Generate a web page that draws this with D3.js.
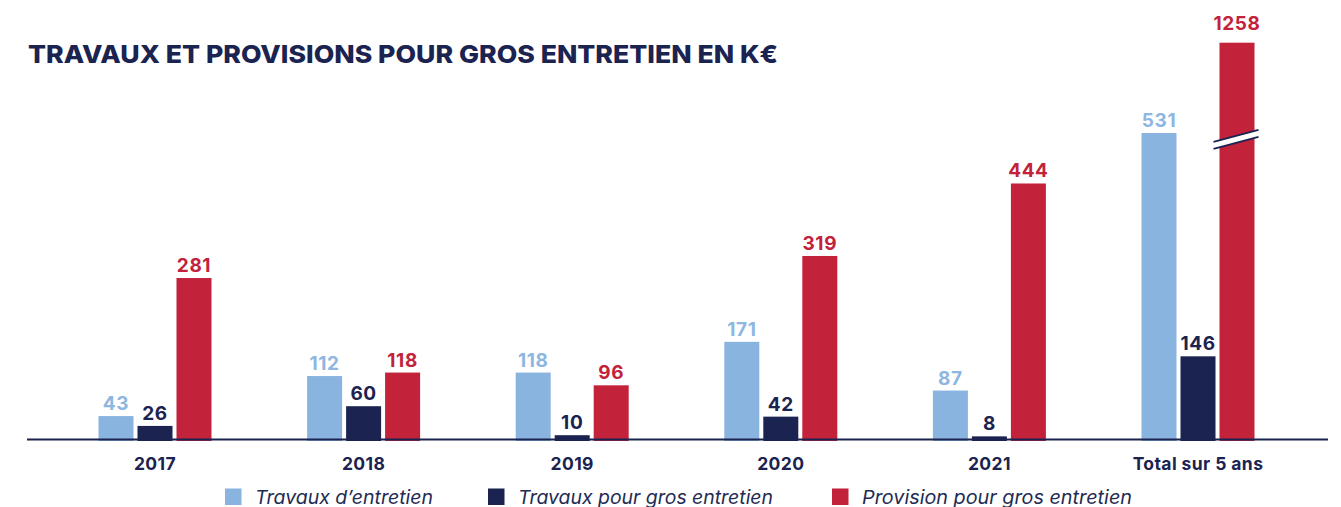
<!DOCTYPE html>
<html>
<head>
<meta charset="utf-8">
<script src="https://cdn.jsdelivr.net/npm/d3@7"></script>
<style>
	body { margin: 0; background: #fff; }
	#graphic { width: 1341px; height: 507px; }
</style>
</head>
<body>
<div id="graphic"></div>
<script>
// data
var categories = ["2017", "2018", "2019", "2020", "2021", "Total sur 5 ans"];
var seriesKeys = ["entretien", "gros", "provision"];
var seriesLabels = ["Travaux d\u2019entretien", "Travaux pour gros entretien", "Provision pour gros entretien"];
var travauxEntretien = [43, 112, 118, 171, 87, 531];
var travauxGros = [26, 60, 10, 42, 8, 146];
var provisionGros = [281, 118, 96, 319, 444, 1258];

var colours = ["#8ab4e0", "#1b2350", "#c2223a"];
var labelColours = ["#8db6e1", "#1b2350", "#c2223a"];
var navy = "#1b2350";

var width = 1341,
	height = 507;

var graphic = d3.select("#graphic");

var svg = graphic
	.append("svg")
	.attr("width", width)
	.attr("height", height);

var rows = categories.map(function(c, i) {
	return {
		group: c,
		entretien: travauxEntretien[i],
		gros: travauxGros[i],
		provision: provisionGros[i]
	};
});

// title
svg
	.append("text")
	.attr("x", 28)
	.attr("y", 63.3)
	.attr("textLength", 750)
	.attr("lengthAdjust", "spacingAndGlyphs")
	.style("font-family", "Inter, 'Noto Sans', sans-serif")
	.style("font-weight", 800)
	.style("font-size", "25px")
	.style("fill", navy)
	.text("TRAVAUX ET PROVISIONS POUR GROS ENTRETIEN EN K\u20ac");

// scales
var x = d3
	.scaleBand()
	.domain(categories)
	.range([50.7, 1302.3])
	.padding(0);

var xInner = d3
	.scaleBand()
	.domain(seriesKeys)
	.range([-56.5, 56.5])
	.paddingInner(0.1026);

// broken axis: linear up to 560, then compressed for the total bar
var baseY = 441;
var pxPerUnit = 0.58;
var breakDomain = 560;
var y = d3
	.scaleLinear()
	.domain([0, breakDomain, 1258])
	.range([baseY, baseY - breakDomain * pxPerUnit, 42.7]);

var z = d3.scaleOrdinal().domain(seriesKeys).range(colours);
var zLabel = d3.scaleOrdinal().domain(seriesKeys).range(labelColours);

// bars
var group = svg
	.selectAll(".grp")
	.data(rows)
	.enter()
	.append("g")
	.attr("class", "grp")
	.attr("transform", function(d) {
		return "translate(" + (x(d.group) + x.bandwidth() / 2) + ",0)";
	});

var cells = group
	.selectAll(".cell")
	.data(function(d) {
		return seriesKeys.map(function(k) {
			return { key: k, value: d[k], group: d.group };
		});
	})
	.enter()
	.append("g")
	.attr("class", "cell");

cells
	.append("rect")
	.attr("x", function(d) {
		return xInner(d.key);
	})
	.attr("width", xInner.bandwidth())
	.attr("y", function(d) {
		return y(d.value);
	})
	.attr("height", function(d) {
		return y(0) - y(d.value);
	})
	.attr("fill", function(d) {
		return z(d.key);
	});

cells
	.append("text")
	.attr("x", function(d) {
		return xInner(d.key) + xInner.bandwidth() / 2;
	})
	.attr("y", function(d) {
		// the broken bar gets a bit more room
		return y(d.value) - (d.value > breakDomain && d.key == "provision" ? 13 : 6);
	})
	.attr("text-anchor", "middle")
	.style("font-family", "Inter, 'Noto Sans', sans-serif")
	.style("font-weight", 700)
	.style("font-size", "19px")
	.style("letter-spacing", "0.6px")
	.style("fill", function(d) {
		return zLabel(d.key);
	})
	.text(function(d) {
		return d.value;
	});

// break mark on bars above the break
var breakMarkValue = 520;
var broken = cells.filter(function(d) {
	return d.value > breakDomain && d.key == "provision";
});

broken.each(function(d) {
	var g = d3.select(this);
	var bx = xInner(d.key),
		bw = xInner.bandwidth(),
		yc = y(breakMarkValue);
	var x1 = bx - 6,
		x2 = bx + bw + 4;
	g.append("polygon")
		.attr("points", [
			[x1, yc + 2.5],
			[x2, yc - 9.5],
			[x2, yc - 2.5],
			[x1, yc + 9.5]
		].join(" "))
		.attr("fill", "#fff");
	g.append("line")
		.attr("x1", x1).attr("y1", yc + 2.5)
		.attr("x2", x2).attr("y2", yc - 9.5)
		.attr("stroke", navy).attr("stroke-width", 2);
	g.append("line")
		.attr("x1", x1).attr("y1", yc + 9.5)
		.attr("x2", x2).attr("y2", yc - 2.5)
		.attr("stroke", navy).attr("stroke-width", 2);
});

// baseline
svg
	.append("line")
	.attr("x1", 27)
	.attr("x2", 1328)
	.attr("y1", 439.5)
	.attr("y2", 439.5)
	.attr("stroke", navy)
	.attr("stroke-width", 2.2);

// x axis labels
var xAxis = d3.axisBottom(x).tickSize(0).tickPadding(18);
var xg = svg
	.append("g")
	.attr("class", "x axis")
	.attr("transform", "translate(0,439.5)")
	.call(xAxis);
xg.select(".domain").remove();
xg.selectAll("text")
	.style("font-family", "Inter, 'Noto Sans', sans-serif")
	.style("font-weight", 700)
	.style("font-size", "17.5px")
	.style("letter-spacing", "0.4px")
	.style("fill", navy);

// legend
var legendX = [225, 488, 832];
var legendTextWidth = [178, 255, 270];
var legend = svg
	.selectAll(".key")
	.data(seriesKeys)
	.enter()
	.append("g")
	.attr("class", "key")
	.attr("transform", function(d, i) {
		return "translate(" + legendX[i] + ",488.5)";
	});

legend
	.append("rect")
	.attr("width", 16.5)
	.attr("height", 16.5)
	.attr("fill", function(d) {
		return z(d);
	});

legend
	.append("text")
	.attr("x", 30)
	.attr("y", 15)
	.attr("textLength", function(d, i) {
		return legendTextWidth[i];
	})
	.attr("lengthAdjust", "spacingAndGlyphs")
	.style("font-family", "Inter, 'Open Sans', sans-serif")
	.style("font-style", "italic")
	.style("font-size", "19px")
	.style("fill", "#232b52")
	.text(function(d, i) {
		return seriesLabels[i];
	});
</script>
</body>
</html>
